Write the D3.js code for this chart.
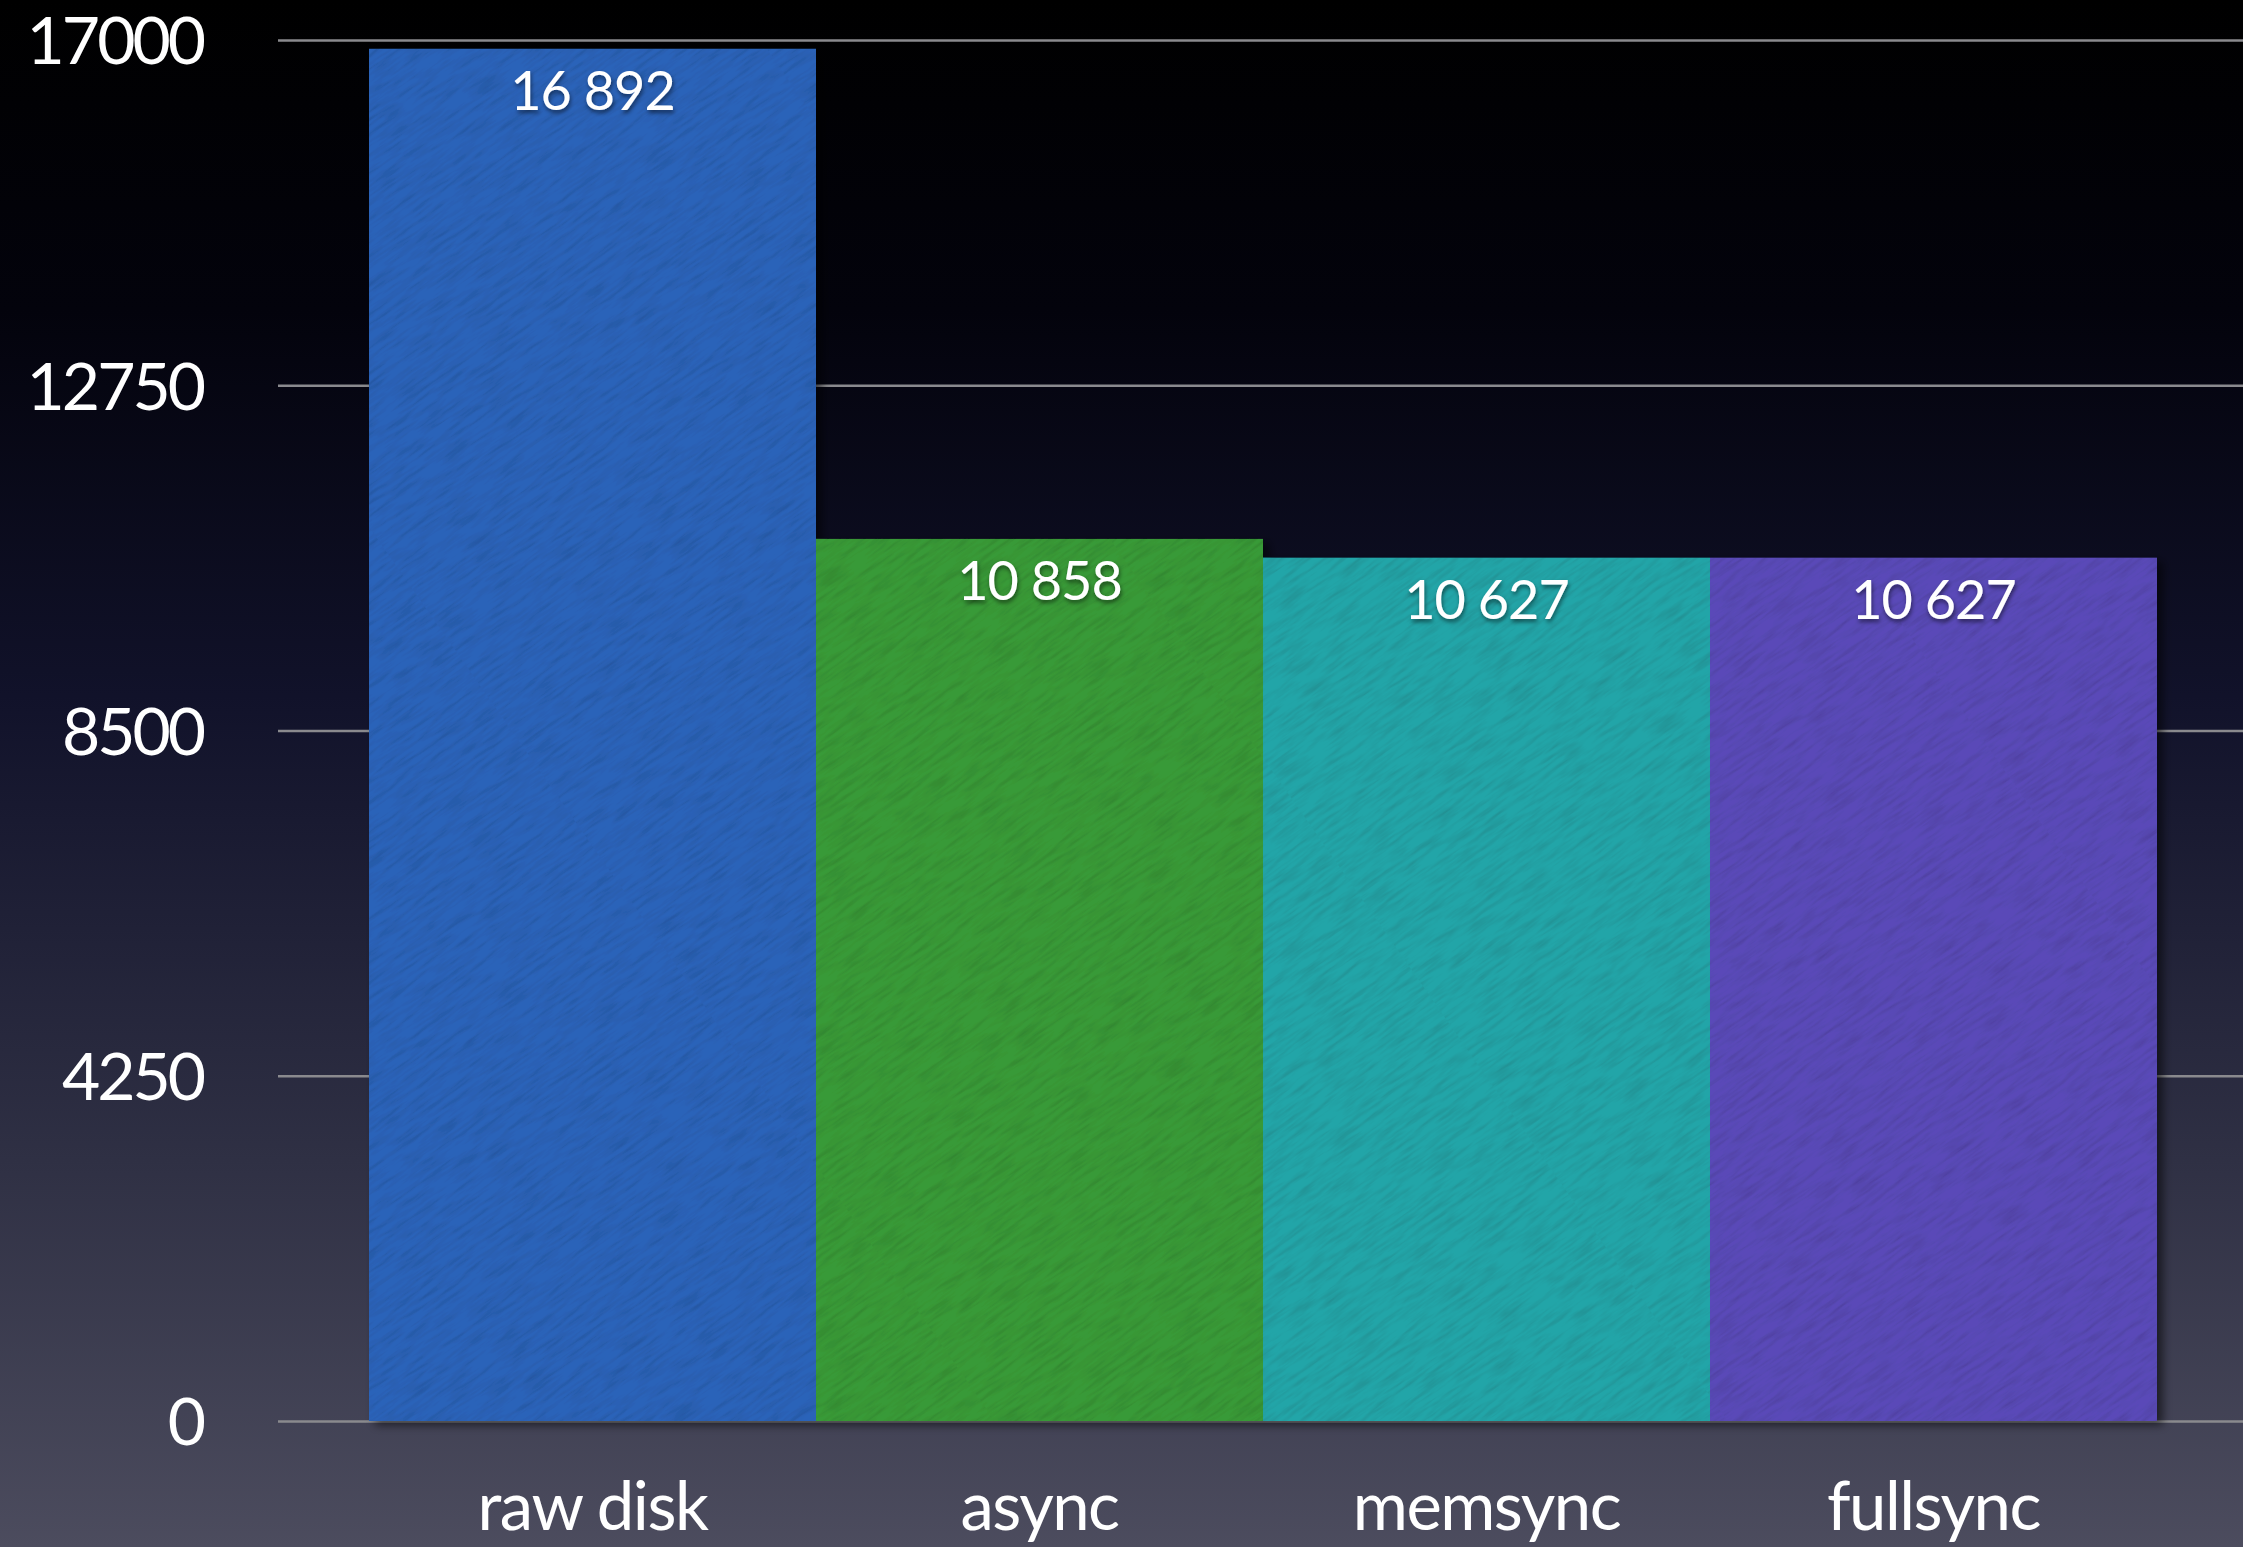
<!DOCTYPE html>
<html lang="en">
<head>
    <meta charset="UTF-8">
    <title>Disk sync benchmark</title>
    <script src="https://d3js.org/d3.v7.min.js"></script>
    <style>
        html, body { margin: 0; padding: 0; background: #000; }
        svg { display: block; }
        text { font-family: Lato, "Open Sans", sans-serif; fill: #fff; }
    </style>
</head>
<body>
    <script>
        var categories = ['raw disk', 'async', 'memsync', 'fullsync'];
        var values = [16892, 10858, 10627, 10627];
        var barColors = ['#2b63b9', '#399a37', '#24a5a8', '#5a4ab8'];
        var yTicks = [0, 4250, 8500, 12750, 17000];

        var svgWidth = 2243, svgHeight = 1547;
        var gridLeft = 278;

        var svg = d3.select('body')
            .append('svg')
            .attr('width', svgWidth)
            .attr('height', svgHeight);

        var defs = svg.append('defs');

        // background gradient, black at top to slate at bottom
        var bg = defs.append('linearGradient')
            .attr('id', 'bg')
            .attr('x1', 0).attr('y1', 0).attr('x2', 0).attr('y2', 1);
        [['0%', '#000000'], ['20%', '#03030c'], ['45%', '#11122a'],
         ['75%', '#2f3044'], ['100%', '#4c4c5e']].forEach(function(s) {
            bg.append('stop').attr('offset', s[0]).attr('stop-color', s[1]);
        });

        var shadow = defs.append('filter')
            .attr('id', 'shadow')
            .attr('x', '-10%').attr('y', '-10%')
            .attr('width', '130%').attr('height', '130%');
        shadow.append('feDropShadow')
            .attr('dx', 6).attr('dy', 4)
            .attr('stdDeviation', 5)
            .attr('flood-color', '#000')
            .attr('flood-opacity', 0.55);

        var textShadow = defs.append('filter').attr('id', 'textShadow');
        textShadow.append('feDropShadow')
            .attr('dx', 1).attr('dy', 3)
            .attr('stdDeviation', 2)
            .attr('flood-color', '#000')
            .attr('flood-opacity', 0.5);

        // paper-like texture
        var noise = defs.append('filter')
            .attr('id', 'noise')
            .attr('x', 0).attr('y', 0).attr('width', '100%').attr('height', '100%');
        noise.append('feTurbulence')
            .attr('type', 'fractalNoise')
            .attr('baseFrequency', '0.03 0.25')
            .attr('numOctaves', 3)
            .attr('seed', 4);
        noise.append('feColorMatrix')
            .attr('type', 'matrix')
            .attr('values', '0 0 0 0 0  0 0 0 0 0  0 0 0 0 0  -1.6 0 0 0 0.95');

        var pattern = defs.append('pattern')
            .attr('id', 'tex')
            .attr('patternUnits', 'userSpaceOnUse')
            .attr('width', 600).attr('height', 600)
            .attr('patternTransform', 'rotate(-35)');
        pattern.append('rect')
            .attr('width', 600).attr('height', 600)
            .attr('filter', 'url(#noise)');

        svg.append('rect')
            .attr('width', svgWidth)
            .attr('height', svgHeight)
            .attr('fill', 'url(#bg)');

        // scales
        var xScale = d3.scaleBand()
            .domain(categories)
            .range([369, 2157])
            .padding(0);

        var yScale = d3.scaleLinear()
            .domain([0, 17000])
            .range([1421, 40]);

        // gridlines + y labels
        var yAxis = svg.append('g')
            .attr('transform', 'translate(' + gridLeft + ',0)')
            .call(d3.axisLeft(yScale)
                .tickValues(yTicks)
                .tickFormat(d3.format('d'))
                .tickSizeInner(-(svgWidth - gridLeft))
                .tickSizeOuter(0)
                .tickPadding(75));
        yAxis.select('.domain').remove();
        yAxis.selectAll('line')
            .attr('stroke', '#8a8a8e')
            .attr('stroke-width', 2.5);
        yAxis.selectAll('text')
            .attr('fill', '#fff')
            .attr('font-family', 'Lato, sans-serif')
            .attr('font-size', '66px')
            .attr('letter-spacing', '-3px')
            .attr('dy', '0.36em');

        var data = categories.map(function(c, i) {
            return { key: c, value: values[i], color: barColors[i] };
        });

        var bars = svg.append('g').attr('filter', 'url(#shadow)');

        bars.selectAll('rect.bar')
            .data(data)
            .enter()
            .append('rect')
            .attr('class', 'bar')
            .attr('x', function(d) { return xScale(d.key); })
            .attr('y', function(d) { return yScale(d.value); })
            .attr('width', xScale.bandwidth())
            .attr('height', function(d) { return yScale(0) - yScale(d.value); })
            .attr('fill', function(d) { return d.color; });

        bars.selectAll('rect.tex')
            .data(data)
            .enter()
            .append('rect')
            .attr('class', 'tex')
            .attr('x', function(d) { return xScale(d.key); })
            .attr('y', function(d) { return yScale(d.value); })
            .attr('width', xScale.bandwidth())
            .attr('height', function(d) { return yScale(0) - yScale(d.value); })
            .attr('fill', 'url(#tex)')
            .attr('opacity', 0.15);

        var spaceFormat = d3.formatLocale({
            decimal: '.', thousands: ' ', grouping: [3], currency: ['', '']
        }).format(',');

        svg.append('g')
            .selectAll('text')
            .data(data)
            .enter()
            .append('text')
            .attr('x', function(d) { return xScale(d.key) + xScale.bandwidth() / 2; })
            .attr('y', function(d) { return yScale(d.value) + 61; })
            .attr('text-anchor', 'middle')
            .attr('font-size', '54px')
            .attr('letter-spacing', '-1px')
            .attr('filter', 'url(#textShadow)')
            .text(function(d) { return spaceFormat(d.value); });

        // category labels
        svg.append('g')
            .selectAll('text')
            .data(categories)
            .enter()
            .append('text')
            .attr('x', function(d) { return xScale(d) + xScale.bandwidth() / 2; })
            .attr('y', 1530)
            .attr('text-anchor', 'middle')
            .attr('font-size', '67px')
            .attr('letter-spacing', '-1.5px')
            .text(function(d) { return d; });
    </script>
</body>
</html>
